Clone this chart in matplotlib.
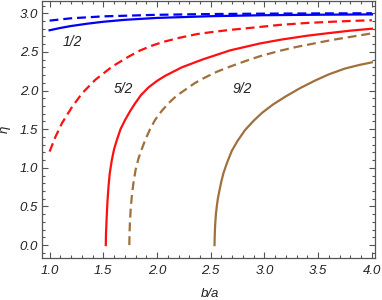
import matplotlib
matplotlib.use("Agg")
import matplotlib.pyplot as plt
from matplotlib.ticker import MultipleLocator

# ---- data ----
blue_solid_x = [1.0, 1.1, 1.2, 1.35, 1.5, 1.7, 2.0, 2.5, 3.0, 3.5, 4.0]
blue_solid_y = [2.78, 2.81, 2.835, 2.865, 2.89, 2.915, 2.94, 2.962, 2.975, 2.981, 2.985]
blue_dash_x = [1.0, 1.2, 1.5, 2.0, 2.5, 3.0, 3.5, 4.0]
blue_dash_y = [2.905, 2.935, 2.96, 2.98, 2.99, 2.995, 2.998, 3.0]

red_solid_x = [1.523, 1.525, 1.53, 1.538, 1.548, 1.56, 1.579, 1.6, 1.626, 1.66, 1.703,
               1.75, 1.796, 1.85, 1.92, 2.0, 2.075, 2.23, 2.42, 2.68, 2.96, 3.16, 3.4,
               3.61, 3.8, 4.0]
red_solid_y = [0.0, 0.15, 0.32, 0.55, 0.755, 0.93, 1.1, 1.24, 1.36, 1.5, 1.62,
               1.735, 1.835, 1.94, 2.04, 2.125, 2.19, 2.3, 2.4, 2.52, 2.61, 2.66, 2.71,
               2.745, 2.775, 2.8]
red_dash_x = [1.0, 1.054, 1.116, 1.21, 1.303, 1.426, 1.582, 1.737, 1.845, 1.95, 2.06,
              2.2, 2.37, 2.5, 2.68, 2.9, 3.146, 3.4, 3.7, 4.0]
red_dash_y = [1.21, 1.4, 1.58, 1.79, 1.965, 2.14, 2.31, 2.44, 2.52, 2.58, 2.63,
              2.68, 2.73, 2.755, 2.785, 2.815, 2.85, 2.875, 2.895, 2.91]

brown_solid_x = [2.535, 2.537, 2.541, 2.548, 2.556, 2.566, 2.58, 2.598, 2.618, 2.65,
                 2.696, 2.75, 2.82, 2.9, 2.976, 3.08, 3.193, 3.33, 3.472, 3.6, 3.75,
                 3.88, 4.0]
brown_solid_y = [0.0, 0.12, 0.26, 0.4, 0.5, 0.6, 0.7, 0.82, 0.93, 1.06,
                 1.22, 1.35, 1.49, 1.61, 1.71, 1.82, 1.92, 2.03, 2.13, 2.21, 2.285,
                 2.33, 2.365]
brown_dash_x = [1.742, 1.744, 1.748, 1.755, 1.765, 1.78, 1.8, 1.827, 1.86, 1.89, 1.935,
                1.982, 2.04, 2.106, 2.18, 2.262, 2.35, 2.448, 2.56, 2.68, 2.82, 2.96,
                3.13, 3.3, 3.63, 4.0]
brown_dash_y = [0.0, 0.15, 0.3, 0.47, 0.63, 0.8, 0.97, 1.12, 1.25, 1.36, 1.5,
                1.62, 1.73, 1.835, 1.93, 2.01, 2.095, 2.17, 2.245, 2.31, 2.38, 2.445,
                2.51, 2.565, 2.655, 2.74]

labels = ["1/2", "5/2", "9/2"]
label_x = [1.21, 1.69, 2.79]
label_y = [2.633, 2.017, 2.02]

BLUE = "#0000F5"
RED = "#FF1010"
BROWN = "#A0703C"
FRAME = "#555555"
TEXT = "#222222"

plt.rcParams.update({
    "font.family": ["Liberation Sans", "DejaVu Sans"],
    "font.style": "italic",
    "font.size": 9.5,
})

fig = plt.figure(figsize=(3.82, 3.0), dpi=100)
ax = fig.add_axes([0.111, 0.141, 0.871, 0.856])

lw = 1.6
dash = (4, 2.2)
ax.plot(blue_solid_x, blue_solid_y, color=BLUE, lw=lw)
ax.plot(blue_dash_x, blue_dash_y, color=BLUE, lw=lw, dashes=dash)
ax.plot(red_solid_x, red_solid_y, color=RED, lw=lw)
ax.plot(red_dash_x, red_dash_y, color=RED, lw=lw, dashes=dash)
ax.plot(brown_solid_x, brown_solid_y, color=BROWN, lw=lw)
ax.plot(brown_dash_x, brown_dash_y, color=BROWN, lw=lw, dashes=dash)

for t, lx, ly in zip(labels, label_x, label_y):
    ax.text(lx, ly, t, ha="center", va="center", fontsize=10, color=TEXT)

ax.set_xlim(0.933, 4.03)
ax.set_ylim(-0.163, 3.16)

ax.xaxis.set_major_locator(MultipleLocator(0.5))
ax.xaxis.set_minor_locator(MultipleLocator(0.1))
ax.yaxis.set_major_locator(MultipleLocator(0.5))
ax.yaxis.set_minor_locator(MultipleLocator(0.1))
ax.xaxis.set_major_formatter(lambda v, p: f"{v:.1f}")
ax.yaxis.set_major_formatter(lambda v, p: f"{v:.1f}")

ax.tick_params(which="both", direction="in", top=True, right=True,
               color=FRAME, labelcolor=TEXT, width=0.8)
ax.tick_params(which="major", length=4)
ax.tick_params(which="minor", length=2)
ax.tick_params(axis="x", which="major", pad=5)
ax.tick_params(axis="y", which="major", pad=3)
for s in ax.spines.values():
    s.set_color(FRAME)
    s.set_linewidth(0.9)

ax.set_xlabel("b/a", color=TEXT)
ax.set_ylabel("η", color=TEXT)
ax.xaxis.set_label_coords(0.504, -0.118)
ax.yaxis.set_label_coords(-0.095, 0.5)

fig.savefig("out.png", dpi=100)
